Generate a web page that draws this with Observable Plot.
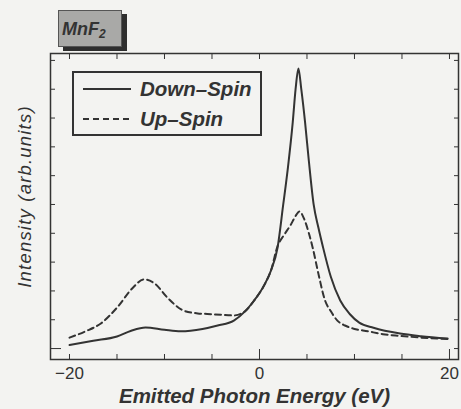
<!DOCTYPE html>
<html><head><meta charset="utf-8">
<script src="https://cdn.jsdelivr.net/npm/d3@7"></script>
<script src="https://cdn.jsdelivr.net/npm/@observablehq/plot@0.6"></script>
<style>
body{margin:0;background:#f3f3f1;font-family:"Liberation Sans",Arial,sans-serif;}
#wrap{position:relative;width:461px;height:409px;overflow:hidden;}
#title{position:absolute;left:58px;top:10px;width:64px;height:37px;background:#a9a9a7;border:1px solid #555;box-shadow:5px 4px 0 #2e2e2e;box-sizing:border-box;color:#333;font-style:italic;font-weight:bold;font-size:18px;line-height:36px;padding-left:3px;}
#title sub{font-size:12px;vertical-align:-3px;}
#legend{position:absolute;left:72px;top:71px;width:190px;height:65px;border:2px solid #333;box-sizing:border-box;background:#f3f3f1;}
#legend .row{position:absolute;left:8px;height:22px;display:flex;align-items:center;}
#legend .lbl{font-style:italic;font-weight:bold;font-size:20.5px;color:#333;margin-left:8px;}
</style></head><body><div id="wrap"></div>
<script>
// Down-Spin (solid)
const energyDown = [-20, -17.5, -15, -13.5, -12, -10, -8.3, -6, -4.4, -2.7, -1.5, -0.6, 0.5, 1.2, 1.9, 2.5, 3.0, 3.5, 3.8, 4.1, 4.4, 4.8, 5.2, 5.7, 6.2, 6.7, 7.5, 8.5, 9.5, 10.5, 12, 14.8, 17, 19.8];
const downSpin   = [0.12, 0.27, 0.42, 0.62, 0.73, 0.65, 0.6, 0.68, 0.8, 0.97, 1.3, 1.65, 2.2, 2.7, 3.5, 5.0, 6.3, 7.85, 9.0, 9.72, 9.0, 7.85, 6.5, 5.0, 4.2, 3.5, 2.5, 1.67, 1.2, 0.9, 0.72, 0.52, 0.43, 0.35];
// Up-Spin (dashed)
const energyUp = [-20, -18.3, -16.7, -15, -13.3, -12.2, -11, -9.7, -8, -6.5, -5.5, -4, -2.7, -1.5, -0.6, 0.5, 1.2, 1.9, 2.6, 3.3, 3.8, 4.2, 4.7, 5.2, 5.6, 6.2, 6.9, 7.5, 8.2, 9.0, 9.9, 11.4, 13, 14.8, 17, 19.8];
const upSpin   = [0.38, 0.6, 0.87, 1.42, 2.12, 2.4, 2.25, 1.77, 1.32, 1.22, 1.2, 1.17, 1.15, 1.3, 1.65, 2.2, 2.7, 3.55, 3.95, 4.3, 4.6, 4.76, 4.5, 4.0, 3.5, 2.6, 1.67, 1.3, 0.97, 0.8, 0.69, 0.6, 0.5, 0.44, 0.38, 0.33];

const xMinorTicks = [-20, -15, -10, -5, 5, 10, 15];
const xMajorTicks = [0, 20];
const xTickLabels = [-20, 0, 20];
const yTicks = [1, 2, 3, 4, 5, 6, 7, 8, 9, 10];
const yMajorTicks = [0];
const xLabel = "Emitted Photon Energy (eV)";
const yLabel = "Intensity (arb.units)";
const seriesNames = ["Down–Spin", "Up–Spin"];

const down = energyDown.map((e, i) => ({e, v: downSpin[i]}));
const up = energyUp.map((e, i) => ({e, v: upSpin[i]}));
const ink = "#333";
const noText = {tickFormat: () => "", stroke: ink, label: null};

const chart = Plot.plot({
  width: 461, height: 409,
  marginLeft: 50, marginRight: 3, marginTop: 53, marginBottom: 50,
  style: {background: "transparent", fontFamily: "Liberation Sans, Arial, sans-serif", color: ink},
  x: {domain: [-22, 20.95]},
  y: {domain: [-0.38, 10.24]},
  marks: [
    Plot.frame({stroke: ink, strokeWidth: 1.5}),
    Plot.axisX(xMinorTicks, {anchor: "bottom", tickSize: -5, ...noText}),
    Plot.axisX(xMajorTicks, {anchor: "bottom", tickSize: -10, ...noText}),
    Plot.axisX(xMinorTicks.concat(xMajorTicks), {anchor: "top", tickSize: -5, ...noText}),
    Plot.axisX(xTickLabels, {anchor: "bottom", tickSize: 0, tickPadding: 7, fontSize: 17, fill: ink, label: null}),
    Plot.axisY(yTicks, {anchor: "left", tickSize: -5, ...noText}),
    Plot.axisY(yMajorTicks, {anchor: "left", tickSize: -11, ...noText}),
    Plot.axisY(yTicks.concat(yMajorTicks), {anchor: "right", tickSize: -5, ...noText}),
    Plot.line(up, {x: "e", y: "v", curve: "monotone-x", stroke: ink, strokeWidth: 2, strokeDasharray: "6,4"}),
    Plot.line(down, {x: "e", y: "v", curve: "monotone-x", stroke: ink, strokeWidth: 2}),
    Plot.text([xLabel], {frameAnchor: "bottom", dy: 43, fontSize: 20.5, fontStyle: "italic", fontWeight: "bold", fill: ink}),
    Plot.text([yLabel], {frameAnchor: "left", textAnchor: "middle", dx: -25, dy: -10, rotate: -90, fontSize: 18.5, fontStyle: "italic", fill: ink})
  ]
});
chart.querySelectorAll("text").forEach(t => {
  if (t.textContent === yLabel) t.style.letterSpacing = "1.2px";
});
const wrap = document.getElementById("wrap");
wrap.appendChild(chart);

const title = document.createElement("div");
title.id = "title";
title.innerHTML = "MnF<sub>2</sub>";
wrap.appendChild(title);

const legend = document.createElement("div");
legend.id = "legend";
const dashes = ["", "6,4"];
seriesNames.forEach((name, i) => {
  const row = document.createElement("div");
  row.className = "row";
  row.style.top = (5 + i * 30) + "px";
  row.innerHTML = `<svg width="50" height="6"><line x1="1" x2="49" y1="3" y2="3" stroke="${ink}" stroke-width="2" stroke-dasharray="${dashes[i]}"/></svg><span class="lbl">${name}</span>`;
  legend.appendChild(row);
});
wrap.appendChild(legend);
</script></body></html>
